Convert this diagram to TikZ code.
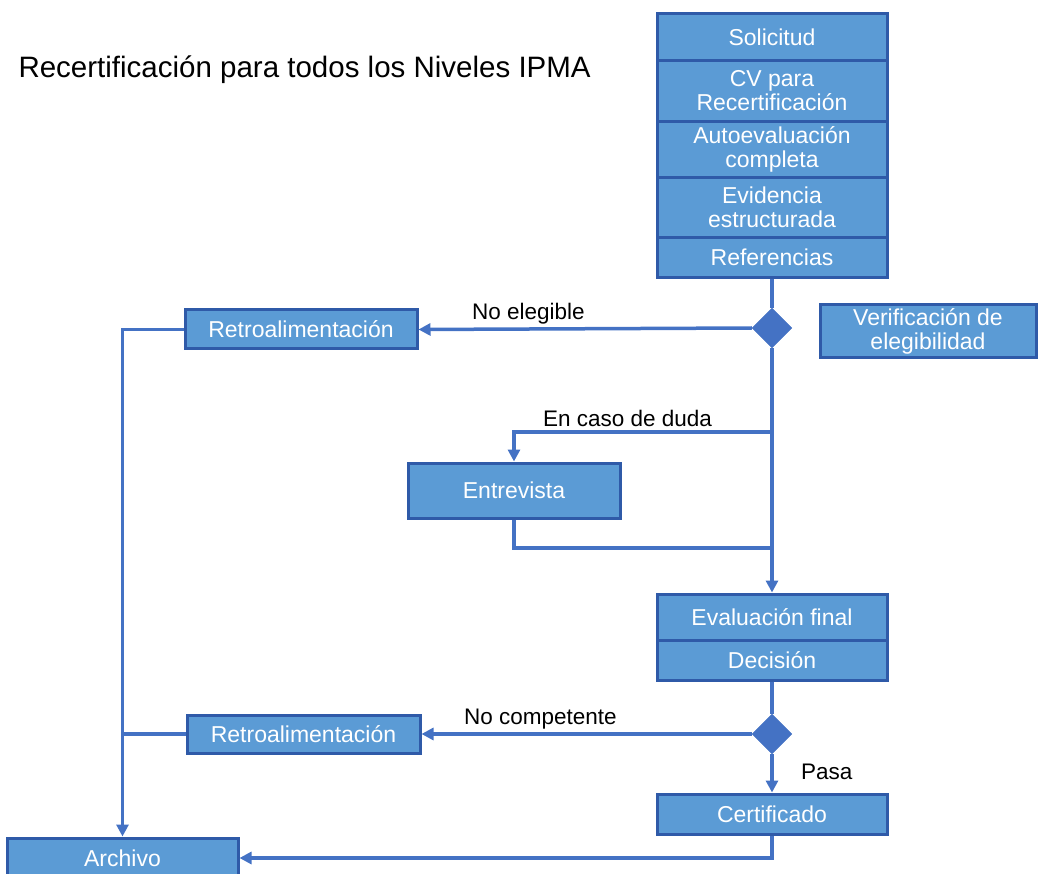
\documentclass[tikz,border=0pt]{standalone}
\usepackage{fontspec}
\setmainfont{Liberation Sans}
\usetikzlibrary{shapes.geometric, arrows.meta}
\definecolor{boxfill}{RGB}{91,155,213}
\definecolor{boxline}{RGB}{47,90,168}
\definecolor{flowline}{RGB}{68,114,196}
\tikzset{
  cell/.style = {draw=boxline, fill=boxfill, line width=3pt, text=white,
    font=\fontsize{23}{24}\selectfont, align=center, inner sep=0pt,
    minimum width=230pt},
  decide/.style = {diamond, draw=flowline, fill=flowline, inner sep=0pt,
    minimum width=40pt, minimum height=40pt},
  flow/.style = {draw=flowline, line width=3.5pt},
  arr/.style = {flow, -{Triangle[length=12pt, width=12pt]}},
  lbl/.style = {font=\fontsize{22.5}{24}\selectfont, text=black}
}

\begin{document}
\begin{tikzpicture}[x=1pt, y=-1pt]
\useasboundingbox (0,0) rectangle (1044,874);
\clip (0,0) rectangle (1044,874);

% タイトル
\node[anchor=west, font=\fontsize{29.5}{31}\selectfont] (title) at (15,70)
  {Recertificación para todos los Niveles IPMA};

% 申請書類の箱
\node[cell, minimum height=47pt] (sol) at (772,37) {Solicitud};
\node[cell, minimum height=61pt] (cv) at (772,91) {CV para\\Recertificación};
\node[cell, minimum height=56pt] (auto) at (772,149.5) {Autoevaluación\\completa};
\node[cell, minimum height=60pt] (evid) at (772,207.5) {Evidencia\\estructurada};
\node[cell, minimum height=40pt] (ref) at (772,257.5) {Referencias};

% 適格性の確認
\node[decide] (dA) at (772,328) {};
\node[cell, minimum width=216pt, minimum height=53pt] (verif) at (928,331)
  {Verificación de\\elegibilidad};
\node[cell, minimum width=232pt, minimum height=39pt] (retroA) at (301,329.5)
  {Retroalimentación};

% 面接
\node[cell, minimum width=212pt, minimum height=55pt] (entre) at (514,490.5)
  {Entrevista};
\coordinate (brA) at (772,432);
\coordinate (brB) at (772,548);

% 最終評価と決定
\node[cell, minimum height=46pt] (evalf) at (772,617) {Evaluación final};
\node[cell, minimum height=40pt] (dec) at (772,660) {Decisión};
\node[decide] (dB) at (772,734) {};
\node[cell, minimum width=233pt, minimum height=38pt] (retroB) at (303.5,734)
  {Retroalimentación};
\node[cell, minimum height=40pt] (cert) at (772,814) {Certificado};
\node[cell, minimum width=231pt, minimum height=40pt] (arch) at (122.5,858)
  {Archivo};

% 矢印
\draw[flow] (ref.south) -- (dA.north);
\draw[arr] (dA.west) -- node[lbl, above, pos=0.67] {No elegible} (retroA.east);
\draw[arr] (dA.south) -- (evalf.north);
\draw[arr] (brA) -| node[lbl, above, pos=0.28] {En caso de duda} (entre.north);
\draw[flow] (entre.south) |- (brB);
\draw[flow] (dec.south) -- (dB.north);
\draw[arr] (dB.west) -- node[lbl, above, pos=0.64] {No competente} (retroB.east);
\draw[arr] (dB.south) -- node[lbl, right, pos=0.45, xshift=24pt] {Pasa} (cert.north);
\draw[arr] (cert.south) |- (arch.east);
\draw[arr] (retroA.west) -| (arch.north);
\draw[flow] (retroB.west) -- (retroB.west -| arch.north);
\end{tikzpicture}
\end{document}
